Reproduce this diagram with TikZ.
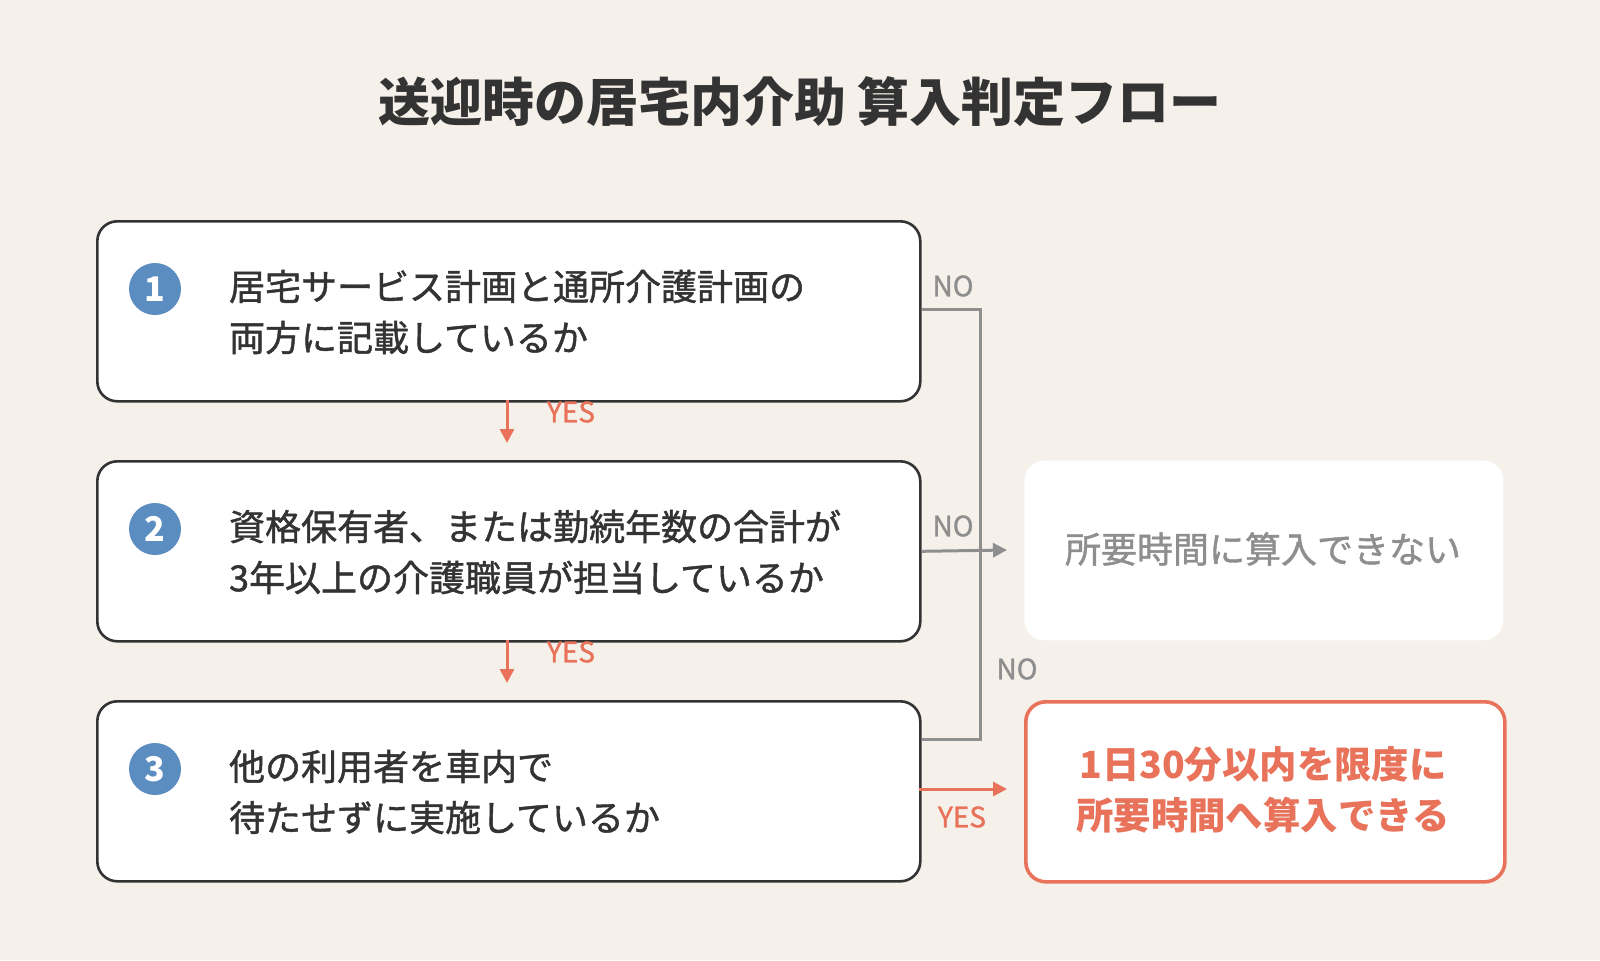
\documentclass[tikz,border=0pt]{standalone}
\usepackage{fontspec}
\setmainfont{Noto Sans CJK JP}
\newfontfamily\medfont[FakeBold=1.2]{Noto Sans CJK JP}
\usetikzlibrary{arrows.meta}
\definecolor{bg}{HTML}{F5F0EA}
\definecolor{bl}{HTML}{5B8DC0}
\definecolor{og}{HTML}{E8735A}
\definecolor{gr}{HTML}{8E8E8E}
\definecolor{dk}{HTML}{333333}
\begin{document}
\begin{tikzpicture}[x=0.5pt,y=-0.5pt,
 box/.style={draw=dk,line width=1.3pt,fill=white,rounded corners=10pt,minimum width=411.5pt,minimum height=90pt,anchor=north west},
 num/.style={circle,fill=bl,minimum size=26pt,inner sep=0pt,text=white,font=\bfseries\fontsize{17}{17}\selectfont},
 txt/.style={anchor=west,align=left,text=dk,font=\medfont\fontsize{18}{25.5}\selectfont},
 lab/.style={font=\medfont\fontsize{14}{14}\selectfont},
 ya/.style={draw=og,line width=1.5pt,-{Triangle[length=7pt,width=7pt]}},
 na/.style={draw=gr,line width=1.5pt}]
\fill[bg] (0,0) rectangle (1600,960);
\useasboundingbox (0,0) rectangle (1600,960);
\node[font=\bfseries\fontsize{26}{26}\selectfont,text=dk] (title) at (800,102) {送迎時の居宅内介助 算入判定フロー};
\node[box] (b1) at (96,220) {};
\node[box] (b2) at (96,460) {};
\node[box] (b3) at (96,700) {};
\node[num] (n1) at (155,289) {1};
\node[num] (n2) at (155,529) {2};
\node[num] (n3) at (155,769) {3};
\node[txt] (t1) at (222,312) {居宅サービス計画と通所介護計画の\\両方に記載しているか};
\node[txt] (t2) at (222,552) {資格保有者、または勤続年数の合計が\\3年以上の介護職員が担当しているか};
\node[txt] (t3) at (222,792) {他の利用者を車内で\\待たせずに実施しているか};
\node[draw=none,fill=white,rounded corners=10pt,minimum width=239.5pt,minimum height=90pt,anchor=north west] (no) at (1024,460) {};
\node[text=gr,font=\medfont\fontsize{18}{18}\selectfont] (notxt) at (1263,549) {所要時間に算入できない};
\node[draw=og,line width=1.8pt,fill=white,rounded corners=10pt,minimum width=239.5pt,minimum height=90pt,anchor=north west] (ok) at (1024,700) {};
\node[text=og,align=center,font=\bfseries\fontsize{18.7}{25.5}\selectfont] (oktxt) at (1263,790) {1日30分以内を限度に\\所要時間へ算入できる};
\coordinate (j1) at (980,309);
\coordinate (j3) at (980,739);
\draw[na] (b1.east |- j1) -- (j1) -- (j3) -- (b3.east |- j3);
\draw[na,-{Triangle[length=7pt,width=7pt]}] (b2.east) -- (1007,550);
\draw[ya] (507,400) -- (507,443);
\draw[ya] (507,640) -- (507,683);
\draw[ya] (919,789) -- (1007,789);
\node[lab,text=gr] (no1) at (953,286) {NO};
\node[lab,text=gr] (no2) at (953,526) {NO};
\node[lab,text=gr] (no3) at (1017,669) {NO};
\node[lab,text=og] (y1) at (571,412) {YES};
\node[lab,text=og] (y2) at (571,652) {YES};
\node[lab,text=og] (y3) at (962,817) {YES};
\end{tikzpicture}
\end{document}
